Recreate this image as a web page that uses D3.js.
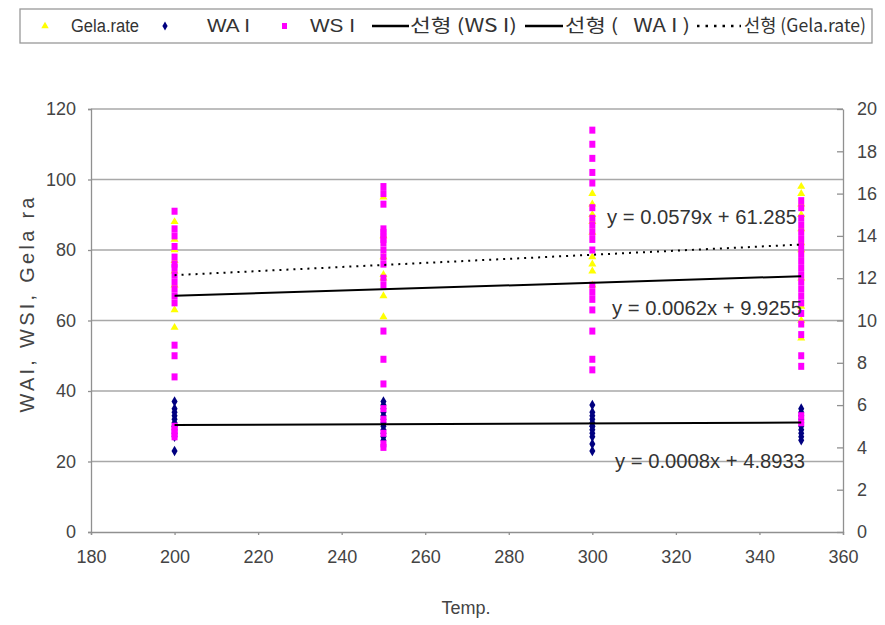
<!DOCTYPE html>
<html>
<head>
<meta charset="utf-8">
<title>WAI WSI Gela rate</title>
<script src="https://cdn.jsdelivr.net/npm/d3@7"></script>
<style>
  body { margin: 0; background: #fff; }
  text { font-family: "Liberation Sans", Arial, sans-serif; }
  .kr { font-family: "Noto Sans CJK KR", "Liberation Sans", sans-serif; }
</style>
</head>
<body>
<div id="chart"></div>
<script>
// temperatures
var temps = [200, 250, 300, 350];

// Gela.rate (left axis)
var gela = [
  [88, 83, 80, 77, 74, 70, 63, 58],
  [95, 84, 78, 73, 72, 67, 61],
  [96, 93, 90, 88, 85, 78, 76, 74, 70],
  [98, 96, 93, 90, 86, 82, 80, 72, 64, 60, 55]
];
// WAI (left axis)
var wai = [
  [37, 35, 34, 33, 32, 31, 30, 30, 29, 28, 27, 23],
  [37, 36, 35, 34, 33, 32, 31, 30, 29, 28, 27, 26],
  [36, 34, 33, 32, 31, 30, 30, 29, 28, 27, 25, 23],
  [35, 34, 33, 32, 31, 30, 29, 28, 27, 26]
];
// WSI (left axis)
var wsi = [
  [91, 86, 84, 81, 78, 76, 75, 73, 71, 69, 67, 65, 53, 50, 44, 30, 29, 28, 27],
  [98, 96, 93, 86, 85, 84, 83, 82, 80, 78, 76, 72, 70, 57, 49, 42, 35, 32, 28, 25, 24],
  [114, 110, 106, 102, 99, 92, 89, 87, 85, 83, 80, 70, 68, 66, 63, 57, 49, 46],
  [94, 92, 89, 87, 85, 83, 81, 79, 77, 75, 73, 71, 69, 67, 65, 62, 59, 56, 50, 47, 33, 31]
];

// trend lines: slope, intercept, which axis
var trends = [
  { name: "WSI", slope: 0.0062, icpt: 9.9255, axis: "right", dash: null, label: "y = 0.0062x + 9.9255" },
  { name: "WAI", slope: 0.0008, icpt: 4.8933, axis: "right", dash: null, label: "y = 0.0008x + 4.8933" },
  { name: "Gela", slope: 0.0579, icpt: 61.285, axis: "left", dash: "2,5", label: "y = 0.0579x + 61.285" }
];

var xTicks = [180, 200, 220, 240, 260, 280, 300, 320, 340, 360];
var yTicks = [0, 20, 40, 60, 80, 100, 120];
var y2Ticks = [0, 2, 4, 6, 8, 10, 12, 14, 16, 18, 20];

var w = 885, h = 625;

var svg = d3.select("#chart").append("svg")
  .attr("width", w).attr("height", h);

var x = d3.scaleLinear().domain([180, 360]).range([91, 843]);
var y = d3.scaleLinear().domain([0, 120]).range([532, 109]);
var y2 = d3.scaleLinear().domain([0, 20]).range([532, 109]);

// gridlines
svg.append("g").selectAll("line")
  .data(yTicks.slice(1))
  .enter().append("line")
  .attr("x1", x(180)).attr("x2", x(360))
  .attr("y1", function(d) { return y(d); })
  .attr("y2", function(d) { return y(d); })
  .attr("stroke", "#a8a8a8").attr("stroke-width", 1.3);

// axes
var gx = svg.append("g").attr("transform", "translate(0," + y(0) + ")")
  .call(d3.axisBottom(x).tickValues(xTicks).tickSize(3).tickPadding(15));
var gy = svg.append("g").attr("transform", "translate(" + x(180) + ",0)")
  .call(d3.axisLeft(y).tickValues(yTicks).tickSize(3).tickPadding(12));
var gy2 = svg.append("g").attr("transform", "translate(" + x(360) + ",0)")
  .call(d3.axisRight(y2).tickValues(y2Ticks).tickSizeInner(-6).tickSizeOuter(0).tickPadding(14));

[gx, gy, gy2].forEach(function(g) {
  g.select(".domain").attr("stroke", "#909090").attr("stroke-width", 1.3);
  g.selectAll(".tick line").attr("stroke", "#909090").attr("stroke-width", 1.3);
  g.selectAll(".tick text").attr("font-size", 18).attr("fill", "#444")
    .attr("font-family", "'Liberation Sans', Arial, sans-serif");
});

// axis titles
svg.append("text").attr("x", 466).attr("y", 614)
  .attr("text-anchor", "middle").attr("font-size", 18).attr("fill", "#444")
  .text("Temp.");
svg.append("text")
  .attr("transform", "translate(34,305) rotate(-90)")
  .attr("text-anchor", "middle").attr("font-size", 20).attr("fill", "#444")
  .attr("textLength", 215).attr("lengthAdjust", "spacing")
  .text("WAI, WSI, Gela ra");

// points
function flat(arr) {
  var out = [];
  arr.forEach(function(vals, i) {
    vals.forEach(function(v) { out.push({ t: temps[i], v: v }); });
  });
  return out;
}

svg.append("g").selectAll("path")
  .data(flat(gela)).enter().append("path")
  .attr("d", d3.symbol().type(d3.symbolTriangle).size(28))
  .attr("transform", function(d) { return "translate(" + x(d.t) + "," + y(d.v) + ")"; })
  .attr("fill", "#ffff00");

svg.append("g").selectAll("path")
  .data(flat(wai)).enter().append("path")
  .attr("d", d3.symbol().type(d3.symbolDiamond).size(32))
  .attr("transform", function(d) { return "translate(" + x(d.t) + "," + y(d.v) + ")"; })
  .attr("fill", "#000080");

svg.append("g").selectAll("rect")
  .data(flat(wsi)).enter().append("rect")
  .attr("x", function(d) { return x(d.t) - 3; })
  .attr("y", function(d) { return y(d.v) - 3.5; })
  .attr("width", 6).attr("height", 7)
  .attr("fill", "#ff00ff");

// trend lines
trends.forEach(function(t) {
  var sc = t.axis == "right" ? y2 : y;
  svg.append("line")
    .attr("x1", x(200)).attr("x2", x(350))
    .attr("y1", sc(t.slope * 200 + t.icpt))
    .attr("y2", sc(t.slope * 350 + t.icpt))
    .attr("stroke", "#000")
    .attr("stroke-width", 2)
    .attr("stroke-dasharray", t.dash);
});

// equation labels
var eqPos = { "Gela": [607, 224], "WSI": [612, 315], "WAI": [615, 468] };
trends.forEach(function(t) {
  svg.append("text")
    .attr("x", eqPos[t.name][0]).attr("y", eqPos[t.name][1])
    .attr("font-size", 20).attr("fill", "#333")
    .attr("textLength", 190).attr("lengthAdjust", "spacingAndGlyphs")
    .text(t.label);
});

// legend
var lg = svg.append("g");
lg.append("rect").attr("x", 20).attr("y", 9).attr("width", 852).attr("height", 34)
  .attr("fill", "#fff").attr("stroke", "#999").attr("stroke-width", 1.3);

var ly = 26;
function legendText(xp, str, len, kr) {
  lg.append("text").attr("class", kr ? "kr" : null)
    .attr("x", xp).attr("y", ly + 6).attr("font-size", 18).attr("fill", "#333")
    .attr("textLength", len).attr("lengthAdjust", "spacingAndGlyphs")
    .style("white-space", "pre").text(str);
}

lg.append("path").attr("d", d3.symbol().type(d3.symbolTriangle).size(24))
  .attr("transform", "translate(45," + ly + ")").attr("fill", "#ffff00");
legendText(71, "Gela.rate", 68, false);

lg.append("path").attr("d", d3.symbol().type(d3.symbolDiamond).size(24))
  .attr("transform", "translate(165," + ly + ")").attr("fill", "#000080");
legendText(207, "WA I", 43, false);

lg.append("rect").attr("x", 282).attr("y", ly - 3).attr("width", 5).attr("height", 6)
  .attr("fill", "#ff00ff");
legendText(310, "WS I", 45, false);

lg.append("line").attr("x1", 372).attr("x2", 409).attr("y1", ly).attr("y2", ly)
  .attr("stroke", "#000").attr("stroke-width", 2.5);
legendText(410, "선형 (WS I)", 107, true);

lg.append("line").attr("x1", 525).attr("x2", 563).attr("y1", ly).attr("y2", ly)
  .attr("stroke", "#000").attr("stroke-width", 2.5);
legendText(565, "선형 (   WA I )", 125, true);

lg.append("line").attr("x1", 697).attr("x2", 741).attr("y1", ly).attr("y2", ly)
  .attr("stroke", "#000").attr("stroke-width", 2.5).attr("stroke-dasharray", "2.5,6");
legendText(744, "선형 (Gela.rate)", 122, true);
</script>
</body>
</html>
